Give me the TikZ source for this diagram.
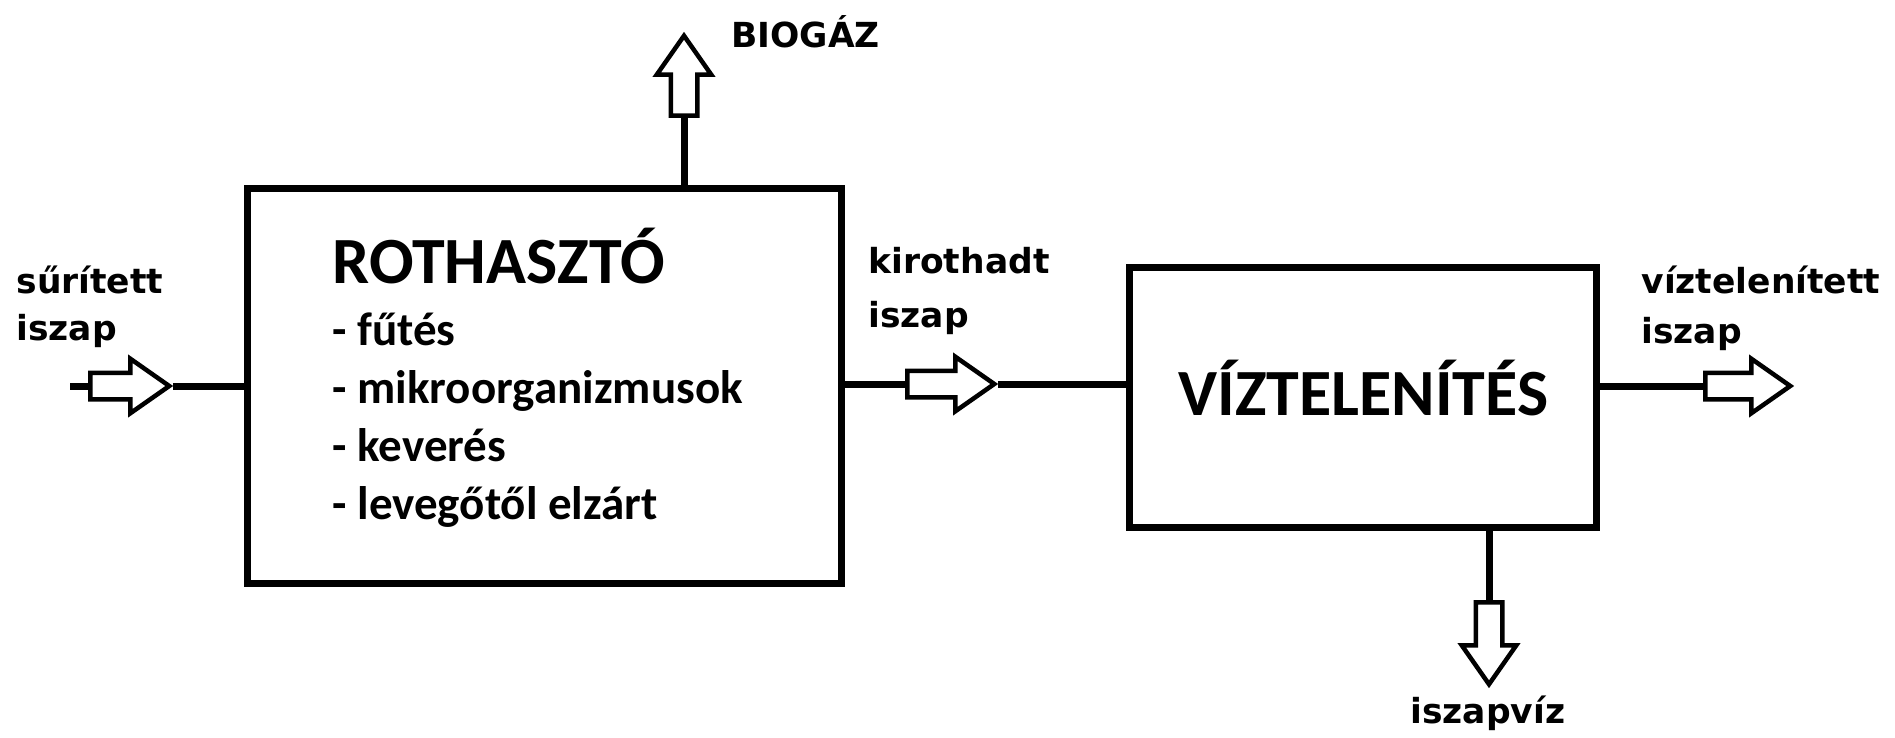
\documentclass[tikz,border=0pt]{standalone}
\usepackage{fontspec}
\usetikzlibrary{shapes.arrows}
\newfontfamily\lblfont{DejaVu Sans}
\newfontfamily\boxfont{Carlito}
\begin{document}
\begin{tikzpicture}[x=1pt,y=-1pt,line width=7pt,
  unit/.style={draw,line width=7pt,inner sep=0pt},
  flow/.style={single arrow,draw,line width=4.5pt,fill=white,inner xsep=0pt,inner ysep=11pt,minimum width=50pt,single arrow head extend=14pt,single arrow tip angle=70,anchor=tail},
  vflow/.style={flow,inner xsep=11pt,inner ysep=0pt},
  lbl/.style={font=\lblfont\bfseries\fontsize{34.5}{50}\selectfont,align=left,anchor=base west,inner sep=0pt},
  title/.style={font=\boxfont\bfseries\fontsize{66}{66}\selectfont,anchor=base west,inner sep=0pt},
  items/.style={font=\boxfont\bfseries\fontsize{47}{58}\selectfont,align=left,anchor=base west,inner sep=0pt}]
\useasboundingbox (0,0) rectangle (1895,738);
\node[unit,minimum width=594pt,minimum height=394pt] (rot) at (544,386) {};
\node[unit,minimum width=467pt,minimum height=260pt] (viz) at (1362.5,397) {};
\node[title] (rottitle) at (329,283) {ROTHASZTÓ};
\node[items] (rotlist) at (329,519) {- fűtés\\- mikroorganizmusok\\- keverés\\- levegőtől elzárt};
\node[title] (viztitle) at (1175,415) {VÍZTELENÍTÉS};
\coordinate (instub) at (70,386);
\node[flow,minimum height=79pt] (inarr) at (88,386) {};
\draw (instub) -- (inarr.tail);
\draw (inarr.tip) -- (rot.west);
\node[flow,minimum height=87pt] (midarr) at (905,384) {};
\draw (rot.east |- midarr.tail) -- (midarr.tail);
\draw (midarr.tip) -- (midarr.tip -| viz.west);
\node[flow,minimum height=85pt] (outarr) at (1703,386) {};
\draw (viz.east |- outarr.tail) -- (outarr.tail);
\node[vflow,shape border rotate=90,minimum height=80pt] (gasarr) at (684,118) {};
\draw (gasarr.tail |- rot.north) -- (gasarr.tail);
\node[vflow,shape border rotate=270,minimum height=82pt] (waterarr) at (1489,600) {};
\draw (waterarr.tail |- viz.south) -- (waterarr.tail);
\node[lbl] (inlbl) at (13,340) {sűrített\\[-3pt]iszap};
\node[lbl] (midlbl) at (865,327) {kirothadt\\[4pt]iszap};
\node[lbl] (outlbl) at (1638,343) {víztelenített\\iszap};
\node[lbl] (gaslbl) at (728,48) {BIOGÁZ};
\node[lbl] (waterlbl) at (1407,723) {iszapvíz};
\end{tikzpicture}
\end{document}
